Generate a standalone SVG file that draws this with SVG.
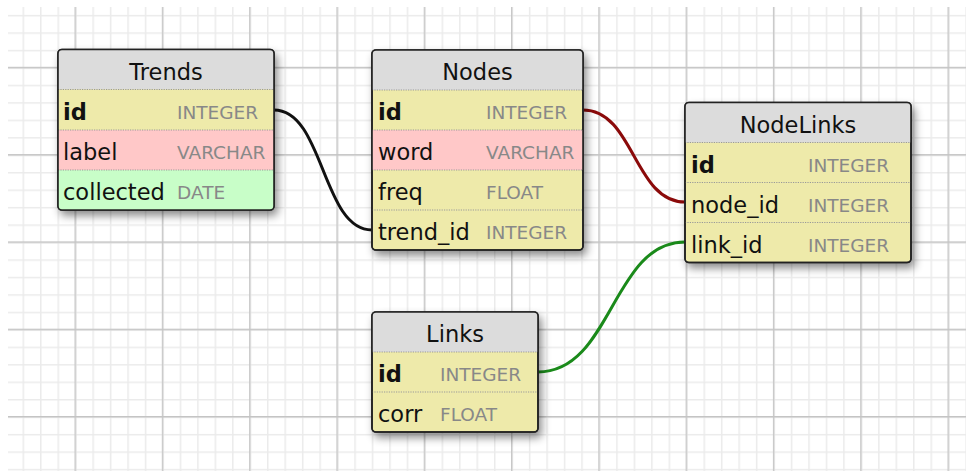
<svg xmlns="http://www.w3.org/2000/svg" width="972" height="471" viewBox="0 0 972 471">
<defs>
<pattern id="minor" patternUnits="userSpaceOnUse" x="5.1" y="14.9" width="17.46" height="17.46">
<path d="M0 0.75 H17.46 M0.75 0 V17.46" stroke="#ebebeb" stroke-width="1.5" fill="none"/>
</pattern>
<pattern id="major" patternUnits="userSpaceOnUse" x="74.5" y="66.8" width="87.3" height="87.3">
<path d="M0 0.75 H87.3 M0.75 0 V87.3" stroke="#c4c4c4" stroke-width="1.3" fill="none"/>
</pattern>
<filter id="sh" x="-10%" y="-10%" width="130%" height="140%">
<feDropShadow dx="3" dy="5" stdDeviation="4" flood-color="#000" flood-opacity="0.45"/>
</filter>
<style>
.box{fill:#eeeaaa;stroke:#222;stroke-width:1.6;filter:url(#sh)}
.hdr{fill:#dcdcdc}
.yel{fill:#eeeaaa}
.pnk{fill:#ffc8c8}
.grn{fill:#c8fec8}
.sep{stroke:#999;stroke-width:1.2;stroke-dasharray:1.2 1.2;fill:none}
.edge{fill:none;stroke:#222;stroke-width:1.6}
.title{font-family:"DejaVu Sans",sans-serif;font-size:22.5px;fill:#111;text-anchor:middle}
.name{font-family:"DejaVu Sans",sans-serif;font-size:22.5px;fill:#111}
.pk{font-weight:bold}
.type{font-family:"DejaVu Sans",sans-serif;font-size:18.5px;fill:#888}
.conn{fill:none;stroke-width:3}
</style>
</defs>
<rect x="0" y="0" width="972" height="471" fill="#fff"/>
<rect x="8" y="7" width="958" height="464" fill="url(#minor)"/>
<rect x="8" y="7" width="958" height="464" fill="url(#major)"/>

<g id="connectors">
<path class="conn" stroke="#111" d="M274 110 C324 110 322 230 372 230"/>
<path class="conn" stroke="#8b0a0a" d="M583 110 C634 110 634 202 685 202"/>
<path class="conn" stroke="#1a8a1a" d="M538 372 C612 372 612 242 685 242"/>
</g>

<g id="Trends">
<rect class="box" x="58" y="49.5" width="216" height="160.5" rx="4"/>
<path class="hdr" d="M62 49.5 H270 A4 4 0 0 1 274 53.5 V89.5 H58 V53.5 A4 4 0 0 1 62 49.5 Z"/>
<rect class="yel" x="58" y="89.5" width="216" height="40.5"/>
<rect class="pnk" x="58" y="130" width="216" height="40"/>
<path class="grn" d="M58 170 H274 V206 A4 4 0 0 1 270 210 H62 A4 4 0 0 1 58 206 Z"/>
<path class="sep" d="M58 89.5 H274 M58 130 H274 M58 170 H274"/>
<rect class="edge" x="58" y="49.5" width="216" height="160.5" rx="4"/>
<text class="title" x="166" y="80">Trends</text>
<text class="name pk" x="63" y="120">id</text><text class="type" x="177" y="119">INTEGER</text>
<text class="name" x="63" y="160">label</text><text class="type" x="177" y="159">VARCHAR</text>
<text class="name" x="63" y="200">collected</text><text class="type" x="177" y="199">DATE</text>
</g>

<g id="Nodes">
<rect class="box" x="372" y="50" width="211" height="200" rx="4"/>
<path class="hdr" d="M376 50 H579 A4 4 0 0 1 583 54 V90 H372 V54 A4 4 0 0 1 376 50 Z"/>
<rect class="pnk" x="372" y="130" width="211" height="40"/>
<path class="sep" d="M372 90 H583 M372 130 H583 M372 170 H583 M372 210 H583"/>
<rect class="edge" x="372" y="50" width="211" height="200" rx="4"/>
<text class="title" x="477.5" y="80">Nodes</text>
<text class="name pk" x="378" y="120">id</text><text class="type" x="486" y="119">INTEGER</text>
<text class="name" x="378" y="160">word</text><text class="type" x="486" y="159">VARCHAR</text>
<text class="name" x="378" y="200">freq</text><text class="type" x="486" y="199">FLOAT</text>
<text class="name" x="378" y="240">trend_id</text><text class="type" x="486" y="239">INTEGER</text>
</g>

<g id="NodeLinks">
<rect class="box" x="685" y="102.5" width="226" height="160" rx="4"/>
<path class="hdr" d="M689 102.5 H907 A4 4 0 0 1 911 106.5 V142.5 H685 V106.5 A4 4 0 0 1 689 102.5 Z"/>
<path class="sep" d="M685 142.5 H911 M685 182.5 H911 M685 222.5 H911"/>
<rect class="edge" x="685" y="102.5" width="226" height="160" rx="4"/>
<text class="title" x="798" y="133">NodeLinks</text>
<text class="name pk" x="691" y="172.5">id</text><text class="type" x="808" y="171.5">INTEGER</text>
<text class="name" x="691" y="212.5">node_id</text><text class="type" x="808" y="211.5">INTEGER</text>
<text class="name" x="691" y="252.5">link_id</text><text class="type" x="808" y="251.5">INTEGER</text>
</g>

<g id="Links">
<rect class="box" x="372" y="312" width="166" height="120" rx="4"/>
<path class="hdr" d="M376 312 H534 A4 4 0 0 1 538 316 V352 H372 V316 A4 4 0 0 1 376 312 Z"/>
<path class="sep" d="M372 352 H538 M372 392 H538"/>
<rect class="edge" x="372" y="312" width="166" height="120" rx="4"/>
<text class="title" x="455" y="342">Links</text>
<text class="name pk" x="378" y="382">id</text><text class="type" x="440" y="381">INTEGER</text>
<text class="name" x="378" y="422">corr</text><text class="type" x="440" y="421">FLOAT</text>
</g>
</svg>
